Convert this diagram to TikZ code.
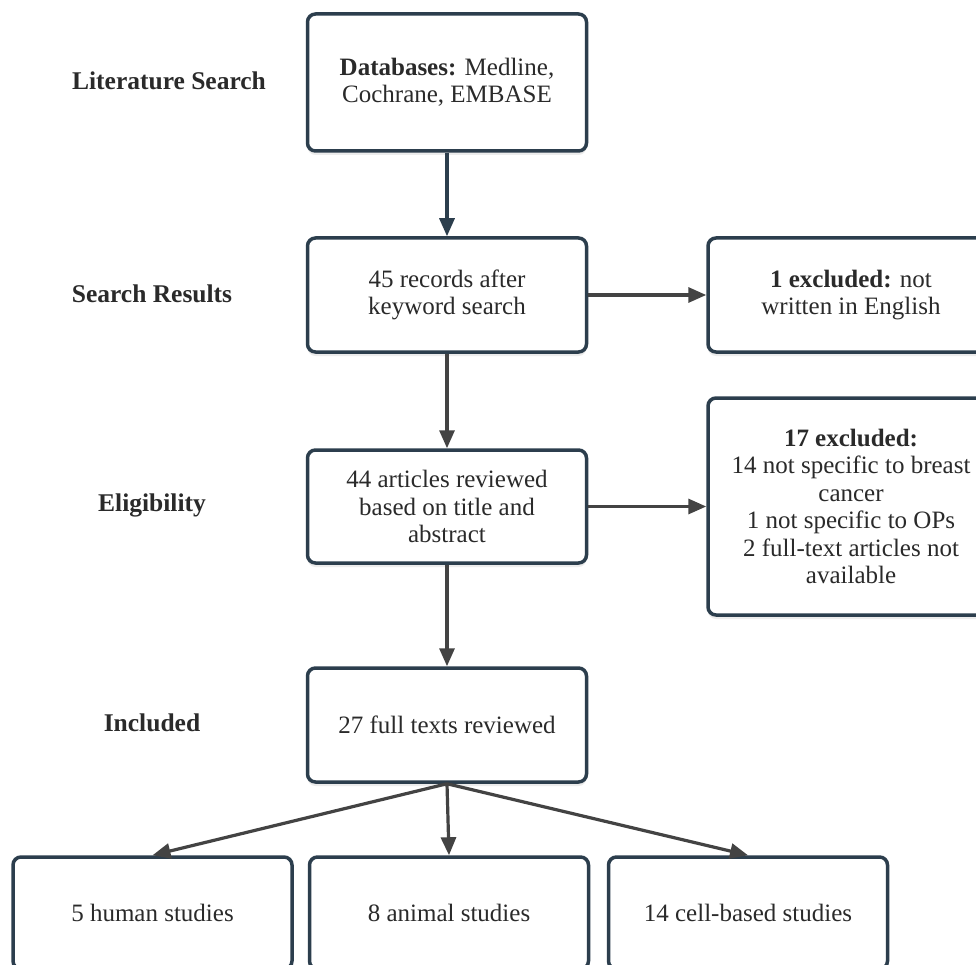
\documentclass[tikz,border=0pt]{standalone}
\usepackage{fontspec}
\setmainfont{Liberation Serif}
\usepackage{tikz}
\usetikzlibrary{arrows.meta,shadows}
\definecolor{boxline}{HTML}{2C3E4D}
\definecolor{arrowgray}{HTML}{434343}
\definecolor{labelgray}{HTML}{2A2A2A}
\newcommand{\flowfont}{\fontsize{25}{27.5}\selectfont}
\newcommand{\stagefont}{\fontsize{25.5}{30}\selectfont\bfseries}
\tikzset{flowbox/.style={draw=boxline,line width=3.5pt,rounded corners=8pt,fill=white,align=center,font=\flowfont,text=labelgray,inner sep=0pt,drop shadow={shadow xshift=0pt,shadow yshift=-4pt,opacity=0.15}}}
\tikzset{stage/.style={font=\stagefont,text=labelgray}}
\tikzset{flowarrow/.style={draw=arrowgray,line width=3.2pt,-{Triangle[length=18pt,width=15pt]}}}

\begin{document}
\begin{tikzpicture}[x=1pt,y=-1pt]
    \path [fill=white,use as bounding box] (0,0) rectangle (976,965);
    \node [stage] (litlabel) at (169,81) {Literature Search};
    \node [stage] (reslabel) at (152,294) {Search Results};
    \node [stage] (eliglabel) at (152,505) {Eligibility};
    \node [stage] (incllabel) at (152,723) {Included};
    \node [flowbox,minimum width=279pt,minimum height=137pt] (lit) at (447,82.5)
        {\textbf{Databases:} Medline,\\Cochrane, EMBASE};
    \node [flowbox,minimum width=279pt,minimum height=114pt] (res) at (447,295)
        {45 records after\\keyword search};
    \node [flowbox,minimum width=286pt,minimum height=114pt] (excl1) at (851,295)
        {\textbf{1 excluded:} not\\written in English};
    \node [flowbox,minimum width=279pt,minimum height=113pt] (elig) at (447,506.5)
        {44 articles reviewed\\based on title and\\abstract};
    \node [flowbox,minimum width=286pt,minimum height=217pt] (excl2) at (851,506.5)
        {\textbf{17 excluded:}\\14 not specific to breast\\cancer\\1 not specific to OPs\\2 full-text articles not\\available};
    \node [flowbox,minimum width=279pt,minimum height=114pt] (incl) at (447,725)
        {27 full texts reviewed};
    \node [flowbox,minimum width=279pt,minimum height=112pt] (human) at (152.5,913)
        {5 human studies};
    \node [flowbox,minimum width=279pt,minimum height=112pt] (animal) at (449,913)
        {8 animal studies};
    \node [flowbox,minimum width=279pt,minimum height=112pt] (cell) at (748,913)
        {14 cell-based studies};
    \draw [flowarrow,draw=boxline] (lit) -- (res);
    \draw [flowarrow] (res) -- (excl1);
    \draw [flowarrow] (res) -- (elig);
    \draw [flowarrow] (elig) -- (excl2);
    \draw [flowarrow] (elig) -- (incl);
    \draw [flowarrow] (incl.south) -- (human.north);
    \draw [flowarrow] (incl.south) -- (animal.north);
    \draw [flowarrow] (incl.south) -- (cell.north);
\end{tikzpicture}
\end{document}
